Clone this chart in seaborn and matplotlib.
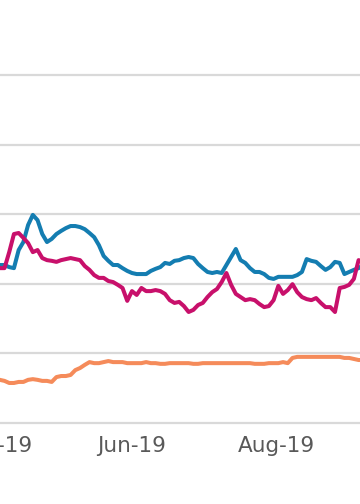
"""Three daily series, Apr-Sep 2019, cropped view of a wider line chart."""
import matplotlib

matplotlib.use("Agg")

import matplotlib.dates as mdates  # noqa: E402
import matplotlib.pyplot as plt  # noqa: E402
import matplotlib.ticker as mticker  # noqa: E402
import pandas as pd  # noqa: E402
import seaborn as sns  # noqa: E402

dates = pd.date_range("2019-04-04", periods=79, freq="2D")

blue = [
    45.4, 45.4, 45.4, 44.8, 44.5, 49.7, 52.0, 56.9, 59.8, 58.3,
    54.3, 52.0, 52.9, 54.3, 55.2, 56.0, 56.6, 56.6, 56.3, 55.7,
    54.6, 53.4, 51.1, 48.0, 46.6, 45.4, 45.4, 44.5, 43.7, 43.1,
    42.8, 42.8, 42.8, 43.7, 44.3, 44.8, 46.0, 45.7, 46.6, 46.8,
    47.4, 47.7, 47.4, 45.7, 44.5, 43.4, 43.1, 43.4, 43.1, 45.4,
    47.7, 50.0, 46.8, 46.0, 44.5, 43.4, 43.4, 42.8, 41.7, 41.4,
    42.0, 42.0, 42.0, 42.0, 42.5, 43.4, 47.1, 46.6, 46.3, 45.1,
    44.0, 44.8, 46.3, 46.0, 42.8, 43.4, 44.0, 44.5, 45.4,
]
magenta = [
    45.1, 44.5, 44.5, 49.1, 54.3, 54.6, 53.2, 51.7, 49.1, 49.7,
    47.4, 46.8, 46.6, 46.3, 46.8, 47.1, 47.4, 47.1, 46.8, 45.1,
    44.0, 42.5, 41.7, 41.7, 40.8, 40.5, 39.7, 38.8, 35.1, 37.9,
    36.8, 38.8, 37.9, 37.9, 38.2, 37.9, 37.1, 35.3, 34.5, 34.8,
    33.6, 31.9, 32.5, 33.9, 34.5, 36.2, 37.6, 38.5, 40.5, 43.1,
    39.7, 37.1, 36.2, 35.3, 35.6, 35.3, 34.2, 33.3, 33.6, 35.3,
    39.4, 37.1, 38.2, 39.9, 37.6, 36.2, 35.6, 35.3, 35.9, 34.5,
    33.3, 33.3, 31.9, 38.8, 39.1, 39.7, 41.4, 46.8, 46.3,
]
orange = [
    12.6, 12.4, 12.1, 11.5, 11.5, 11.8, 11.8, 12.4, 12.6, 12.4,
    12.1, 12.1, 11.8, 13.2, 13.5, 13.5, 13.8, 15.2, 15.8, 16.7,
    17.5, 17.2, 17.2, 17.5, 17.8, 17.5, 17.5, 17.5, 17.2, 17.2,
    17.2, 17.2, 17.5, 17.2, 17.2, 17.0, 17.0, 17.2, 17.2, 17.2,
    17.2, 17.2, 17.0, 17.0, 17.2, 17.2, 17.2, 17.2, 17.2, 17.2,
    17.2, 17.2, 17.2, 17.2, 17.2, 17.0, 17.0, 17.0, 17.2, 17.2,
    17.2, 17.5, 17.2, 18.7, 19.0, 19.0, 19.0, 19.0, 19.0, 19.0,
    19.0, 19.0, 19.0, 19.0, 18.7, 18.7, 18.4, 18.1, 18.1,
]

series_names = ["Series A", "Series B", "Series C"]
colors = ["#147db1", "#c8106b", "#f58b5a"]
tick_dates = ["2019-04-05", "2019-06-01", "2019-08-01", "2019-10-01"]
tick_labels = ["Apr-19", "Jun-19", "Aug-19", "Oct-19"]

df = pd.concat(
    [
        pd.DataFrame({"date": dates, "value": vals, "series": name})
        for name, vals in zip(series_names, [blue, magenta, orange])
    ],
    ignore_index=True,
)

sns.set_theme(style="white")
plt.rcParams["font.family"] = ["DejaVu Sans"]

fig = plt.figure(figsize=(3.6, 5.04), dpi=100)
# the visible picture is a crop: the axes run past both side edges
ax = fig.add_axes([-49.8 / 360, 81 / 504, 455.6 / 360, 348 / 504])

sns.lineplot(
    data=df, x="date", y="value", hue="series",
    palette=dict(zip(series_names, colors)),
    linewidth=2.9, legend=False, ax=ax,
)

ax.set_xlim(pd.Timestamp("2019-03-16"), pd.Timestamp("2019-09-25"))
ax.set_ylim(0, 100)
ax.yaxis.set_major_locator(mticker.MultipleLocator(20))
ax.xaxis.set_major_locator(
    mticker.FixedLocator(mdates.date2num(pd.to_datetime(tick_dates)))
)
ax.set_xticklabels(tick_labels)
ax.tick_params(axis="x", length=0, pad=9, labelsize=15.5, labelcolor="#595959")
ax.tick_params(axis="y", length=0, labelleft=False)
ax.set_xlabel("")
ax.set_ylabel("")
for s in ax.spines.values():
    s.set_visible(False)
ax.grid(axis="y", color="#d9d9d9", linewidth=1.6)
ax.grid(axis="x", visible=False)
ax.set_axisbelow(True)
for gl in ax.get_ygridlines():
    gl.set_clip_on(False)

fig.savefig("out.png", dpi=100)
plt.close(fig)
